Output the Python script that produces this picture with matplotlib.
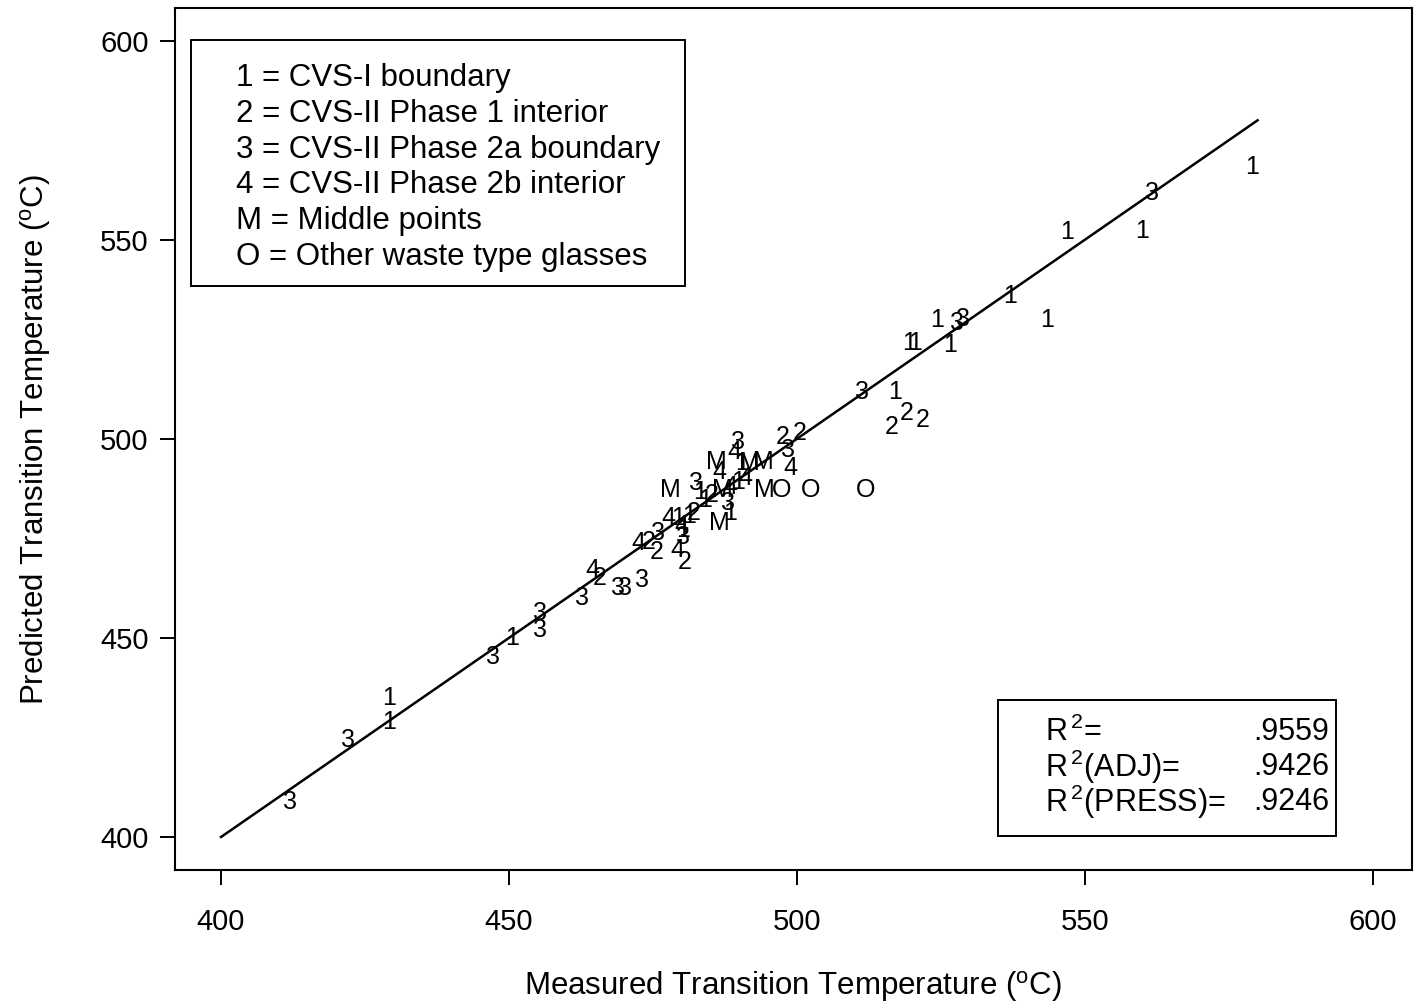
import matplotlib
matplotlib.use("Agg")
import matplotlib.pyplot as plt

plt.rcParams['font.family'] = ['Liberation Sans', 'DejaVu Sans']
plt.rcParams['mathtext.fontset'] = 'custom'
plt.rcParams['mathtext.rm'] = 'Liberation Sans'

g1_x = [579.1, 547.0, 560.0, 537.1, 543.5, 524.4, 526.6, 519.4, 520.6, 517.0,
        429.2, 429.2, 450.5, 483.2, 484.0, 489.8, 490.5, 488.4, 479.3, 481.2, 480.2]
g1_y = [568.2, 552.0, 552.2, 536.0, 529.9, 529.9, 523.6, 524.1, 524.1, 511.8,
        434.8, 428.9, 450.0, 486.7, 484.7, 489.1, 494.0, 481.5, 480.2, 480.6, 477.0]

g2_x = [516.5, 519.1, 521.9, 497.6, 500.5, 465.8, 474.3, 475.7, 480.6, 485.2, 482.0]
g2_y = [503.0, 506.5, 504.8, 500.5, 501.5, 465.1, 474.1, 471.6, 469.1, 486.0, 481.5]

g3_x = [561.6, 527.8, 528.8, 511.3, 412.0, 422.0, 447.2, 455.4, 455.4, 462.7,
        468.9, 470.1, 473.1, 475.9, 489.8, 498.4, 482.5, 488.0, 480.2]
g3_y = [561.8, 529.1, 530.1, 511.8, 408.8, 424.4, 445.2, 456.3, 452.0, 460.0,
        462.6, 462.6, 464.6, 476.4, 499.2, 497.2, 488.9, 483.9, 475.4]

g4_x = [464.4, 472.4, 477.6, 479.2, 486.6, 489.2, 498.8, 488.4, 491.0, 480.0]
g4_y = [467.1, 473.9, 480.2, 472.1, 491.7, 496.7, 492.7, 487.9, 490.2, 478.0]

gm_x = [478.0, 486.1, 491.8, 494.1, 487.0, 494.4, 486.6]
gm_y = [487.2, 494.2, 494.0, 494.2, 487.2, 487.2, 478.9]

go_x = [497.3, 502.3, 512.0]
go_y = [487.2, 487.2, 487.2]

grupos = [("1", g1_x, g1_y), ("2", g2_x, g2_y), ("3", g3_x, g3_y),
          ("4", g4_x, g4_y), ("M", gm_x, gm_y), ("O", go_x, go_y)]

fit_x = [400, 580]
fit_y = [400, 580]

leyenda = ["1 = CVS-I boundary",
           "2 = CVS-II Phase 1 interior",
           "3 = CVS-II Phase 2a boundary",
           "4 = CVS-II Phase 2b interior",
           "M = Middle points",
           "O = Other waste type glasses"]

fig = plt.figure(figsize=(14.19, 10.07), dpi=100)
ax = fig.add_axes([0.1233, 0.136, 0.8717, 0.856])

ax.plot(fit_x, fit_y, color='black', lw=1.8)

for etiqueta, xs, ys in grupos:
    for x, y in zip(xs, ys):
        ax.text(x, y, etiqueta, ha='center', va='center', fontsize=18)

ax.set_xlim(392, 606.8)
ax.set_ylim(391.7, 608.2)
ax.set_xticks([400, 450, 500, 550, 600])
ax.set_yticks([400, 450, 500, 550, 600])
ax.tick_params(direction='out', length=11, width=1.4, labelsize=21)
ax.tick_params(axis='x', pad=16)
ax.tick_params(axis='y', pad=8)
for s in ax.spines.values():
    s.set_linewidth(1.5)

ax.set_xlabel(r'Measured Transition Temperature ($^{\rm o}$C)', fontsize=22.5, labelpad=24)
ax.set_ylabel(r'Predicted Transition Temperature ($^{\rm o}$C)', fontsize=22.5, labelpad=34)

# caja de leyenda
ax.text(0.0493, 0.9365, "\n".join(leyenda), transform=ax.transAxes,
        fontsize=22.5, va='top', ha='left', linespacing=1.255)
ax.add_patch(plt.Rectangle((0.0129, 0.6775), 0.3994, 0.2854, transform=ax.transAxes,
                           fill=False, ec='black', lw=1.4))

# caja de R^2
ax.add_patch(plt.Rectangle((0.6653, 0.0394), 0.2732, 0.1578, transform=ax.transAxes,
                           fill=False, ec='black', lw=1.4))
r2_txt = [r'R$^{\,2}$=', r'R$^{\,2}$(ADJ)=', r'R$^{\,2}$(PRESS)=']
r2_val = ['.9559', '.9426', '.9246']
for i, (t, v) in enumerate(zip(r2_txt, r2_val)):
    yy = 0.1598 - i * 0.0406
    ax.text(0.7033, yy, t, transform=ax.transAxes, fontsize=22, va='center', ha='left')
    ax.text(0.9333, yy, v, transform=ax.transAxes, fontsize=22, va='center', ha='right')

fig.savefig('out.png', dpi=100)
